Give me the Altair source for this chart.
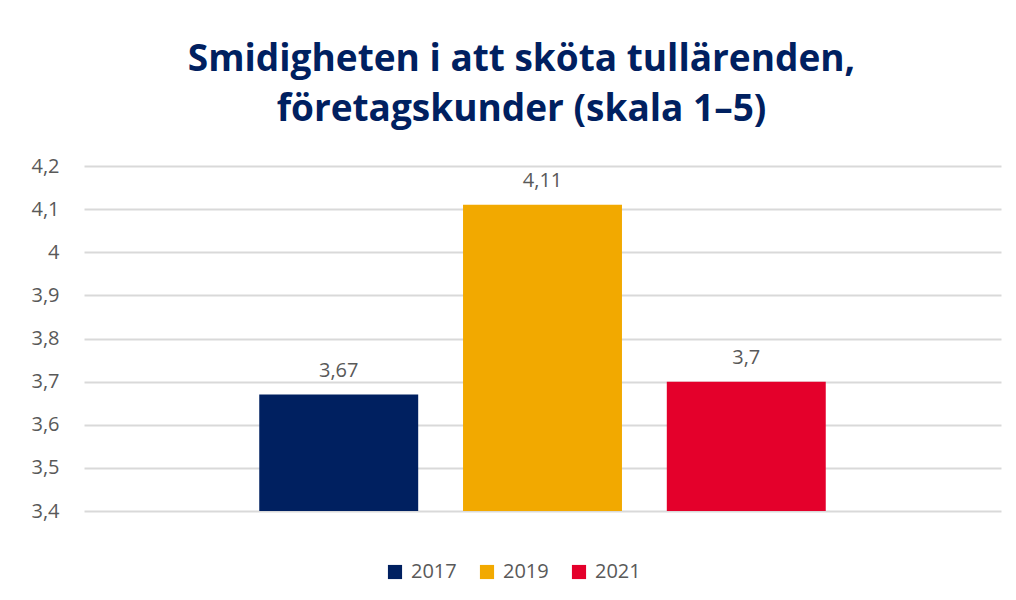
import altair as alt
import pandas as pd

years = ["2017", "2019", "2021"]
values = [3.67, 4.11, 3.70]
colors = ["#002060", "#F2A900", "#E4002B"]
title_lines = ["Smidigheten i att sköta tullärenden,", "företagskunder (skala 1–5)"]
y_ticks = [3.4, 3.5, 3.6, 3.7, 3.8, 3.9, 4.0, 4.1, 4.2]

df = pd.DataFrame({"year": years, "value": values})

base = alt.Chart(df).transform_calculate(
    label="replace(format(datum.value, '.2~f'), '.', ',')"
)

x = alt.X("year:N", axis=None,
          scale=alt.Scale(paddingInner=0.22, paddingOuter=0.86))
y = alt.Y("value:Q",
          scale=alt.Scale(domain=[3.4, 4.2], clamp=True, zero=False, nice=False),
          axis=alt.Axis(title=None, values=y_ticks,
                        labelExpr="replace(format(datum.value, '.1~f'), '.', ',')",
                        grid=True, gridColor="#D9D9D9", gridWidth=2,
                        domain=False, ticks=False, labelPadding=25,
                        labelFont="Open Sans", labelFontSize=20,
                        labelColor="#595959"))

bars = base.mark_bar(clip=True).encode(
    x=x, y=y,
    y2=alt.datum(3.4),
    color=alt.Color("year:N",
                    scale=alt.Scale(domain=years, range=colors),
                    legend=alt.Legend(title=None, orient="none",
                                      legendX=301, legendY=396,
                                      direction="horizontal",
                                      symbolType="square", symbolSize=200,
                                      labelFont="Open Sans", labelFontSize=20,
                                      labelColor="#595959", columnPadding=20,
                                      labelOffset=6,
                                      symbolStrokeWidth=0)),
)

text = base.mark_text(baseline="bottom", dy=-14, font="Open Sans",
                      fontSize=20, color="#595959").encode(
    x=x, y=alt.Y("value:Q"), text="label:N"
)

chart = alt.layer(bars, text).properties(
    width=917, height=345, background="white",
    padding={"left": 22, "top": 33, "right": 2, "bottom": 10},
    title=alt.TitleParams(title_lines, font="Open Sans", fontSize=37,
                          fontWeight="bold", color="#002060", lineHeight=50,
                          anchor="middle", offset=27, dx=-21),
).configure_view(stroke=None)

chart.save("out.html", embed_options={"renderer": "svg", "actions": False})
